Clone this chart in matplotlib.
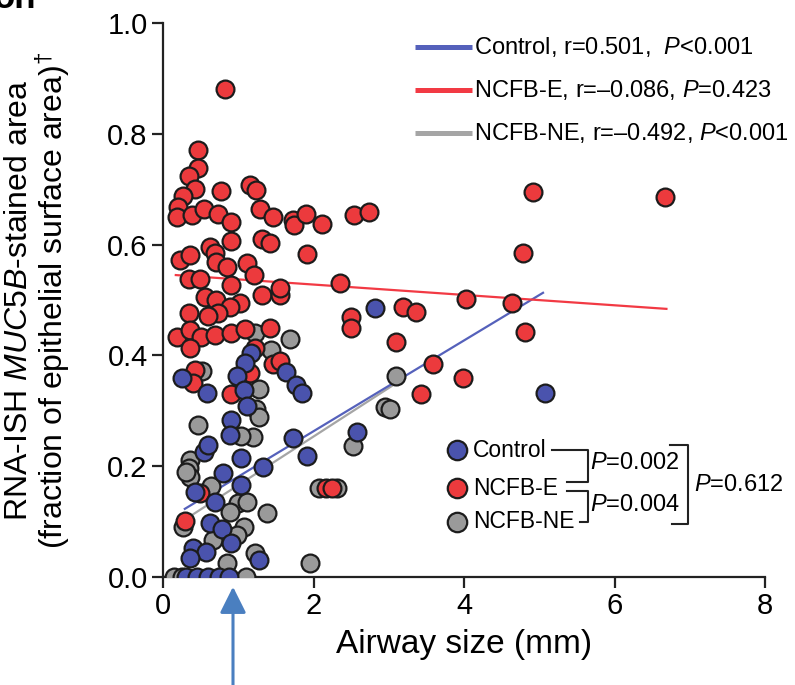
import matplotlib.pyplot as plt
import numpy as np

plt.rcParams['font.family'] = ['Liberation Sans', 'DejaVu Sans']
plt.rcParams['mathtext.fontset'] = 'custom'
plt.rcParams['mathtext.rm'] = 'Liberation Sans'
plt.rcParams['mathtext.it'] = 'Liberation Sans:italic'

# Datos: tamano de via aerea (mm) y fraccion de area MUC5B
control_x = [2.82, 5.08, 2.58, 0.25, 0.58, 1.17, 1.09, 0.99, 1.07, 1.11, 1.63, 1.77,
             1.85, 0.91, 0.89, 1.73, 1.91, 0.54, 0.60, 1.03, 1.33, 0.80, 1.03, 0.42,
             0.69, 0.62, 0.78, 0.91, 0.40, 0.57, 0.36, 1.27, 0.30, 0.45, 0.60, 0.75, 0.88]
control_y = [0.486, 0.333, 0.262, 0.359, 0.332, 0.404, 0.386, 0.362, 0.338, 0.309, 0.370, 0.347,
             0.332, 0.283, 0.256, 0.251, 0.218, 0.226, 0.238, 0.214, 0.198, 0.187, 0.166, 0.154,
             0.135, 0.097, 0.086, 0.061, 0.052, 0.046, 0.035, 0.031, 0.0, 0.0, 0.0, 0.0, 0.0]

ncfb_e_x = [0.82, 0.47, 0.47, 0.34, 0.42, 0.27, 0.20, 0.18, 0.38, 0.54, 0.77, 0.73, 0.91,
            1.16, 1.24, 1.29, 1.46, 1.73, 1.74, 1.90, 2.11, 2.54, 2.74,
            0.91, 1.31, 1.42, 1.91, 0.23, 0.36, 0.62, 0.69, 0.70, 0.85, 1.11, 1.21, 0.35,
            0.49, 0.90, 2.35, 1.31, 1.55, 1.55, 0.56, 0.71, 1.02, 0.89, 0.34, 0.73, 0.60,
            2.50, 2.50, 0.18, 0.36, 0.51, 0.69, 0.91, 1.09, 1.42, 0.36, 0.42, 0.40, 0.91,
            1.46, 1.55, 1.22, 1.16, 0.49, 0.29, 2.17, 2.25,
            4.92, 6.67, 4.79, 4.02, 4.64, 4.81, 3.19, 3.36, 3.10, 3.59, 3.99, 3.43]
ncfb_e_y = [0.880, 0.771, 0.738, 0.724, 0.700, 0.688, 0.668, 0.650, 0.653, 0.665, 0.697, 0.655, 0.640,
            0.707, 0.698, 0.665, 0.649, 0.645, 0.635, 0.656, 0.638, 0.653, 0.658,
            0.607, 0.611, 0.603, 0.583, 0.573, 0.581, 0.596, 0.585, 0.569, 0.560, 0.566, 0.545, 0.538,
            0.538, 0.527, 0.530, 0.509, 0.509, 0.521, 0.505, 0.500, 0.494, 0.488, 0.477, 0.476, 0.471,
            0.470, 0.449, 0.434, 0.446, 0.433, 0.437, 0.441, 0.447, 0.449, 0.413, 0.374, 0.350, 0.330,
            0.384, 0.389, 0.413, 0.368, 0.151, 0.101, 0.161, 0.161,
            0.695, 0.686, 0.584, 0.501, 0.495, 0.443, 0.488, 0.479, 0.424, 0.384, 0.359, 0.330]

ncfb_ne_x = [1.69, 1.44, 1.22, 0.52, 1.27, 1.24, 1.27, 0.47, 1.20, 1.04, 0.36, 0.34, 0.36,
             0.31, 0.64, 1.00, 1.11, 0.89, 1.38, 1.08, 0.98, 0.67, 0.85, 1.95, 1.22, 2.07,
             2.31, 2.53, 3.09, 2.95, 3.01, 0.27, 0.15, 0.25, 1.10]
ncfb_ne_y = [0.429, 0.410, 0.440, 0.372, 0.340, 0.303, 0.289, 0.274, 0.252, 0.255, 0.211, 0.196, 0.180,
             0.190, 0.165, 0.133, 0.136, 0.118, 0.116, 0.091, 0.076, 0.066, 0.025, 0.025, 0.043, 0.161,
             0.161, 0.237, 0.362, 0.307, 0.303, 0.091, 0.0, 0.0, 0.0]

# Rectas de regresion (extremos leidos)
fit_control_x = [0.29, 5.05]
fit_control_y = [0.123, 0.513]
fit_e_x = [0.17, 6.69]
fit_e_y = [0.545, 0.484]
fit_ne_x = [0.33, 3.10]
fit_ne_y = [0.107, 0.350]

etiquetas_recta = ['Control, r=0.501,  $P$<0.001',
                   'NCFB-E, r=\u20130.086, $P$=0.423',
                   'NCFB-NE, r=\u20130.492, $P$<0.001']
etiquetas_grupo = ['Control', 'NCFB-E', 'NCFB-NE']
p_pares = ['$P$=0.002', '$P$=0.004']
p_global = '$P$=0.612'
x_ticks = [0, 2, 4, 6, 8]
y_ticks = [0.0, 0.2, 0.4, 0.6, 0.8, 1.0]

azul = '#4a53ad'
rojo = '#ec3a3d'
gris = '#9a9a9a'
azul_linea = '#5561bb'
rojo_linea = '#f23a44'
gris_linea = '#a5a5a5'
borde = '#1c1c1c'

fig = plt.figure(figsize=(7.95, 6.85), dpi=100)
ax = fig.add_axes([163 / 795, 1 - 577 / 685, 602 / 795, 554 / 685])

ax.plot(fit_ne_x, fit_ne_y, color=gris_linea, lw=1.6, zorder=2)
ax.plot(fit_control_x, fit_control_y, color=azul_linea, lw=1.6, zorder=2)
ax.plot(fit_e_x, fit_e_y, color=rojo_linea, lw=1.6, zorder=2)

ax.scatter(ncfb_ne_x, ncfb_ne_y, s=165, c=gris, edgecolors=borde, linewidths=1.6, zorder=3)
ax.scatter(ncfb_e_x, ncfb_e_y, s=165, c=rojo, edgecolors=borde, linewidths=1.6, zorder=3)
ax.scatter(control_x, control_y, s=165, c=azul, edgecolors=borde, linewidths=1.6, zorder=3)

ax.set_xlim(0, 8)
ax.set_ylim(0, 1)
ax.set_xticks(x_ticks)
ax.set_yticks(y_ticks)
ax.set_yticklabels([f'{v:.1f}' for v in y_ticks])
for s in ['top', 'right']:
    ax.spines[s].set_visible(False)
for s in ['left', 'bottom']:
    ax.spines[s].set_linewidth(1.6)
    ax.spines[s].set_color('#222222')
ax.tick_params(direction='out', length=8, width=1.6, labelsize=21, pad=3, color='#222222')

ax.set_xlabel('Airway size (mm)', fontsize=24, labelpad=6)
ax.set_ylabel('RNA-ISH $\\it{MUC5B}$-stained area\n(fraction of epithelial surface area)$^{\u2020}$',
              fontsize=23, linespacing=0.95)
ax.yaxis.set_label_coords((72 - 163) / 602, 0.5)

# Capa en pixeles para leyendas, corchetes y flecha
ov = fig.add_axes([0, 0, 1, 1], zorder=5)
ov.set_xlim(0, 795)
ov.set_ylim(685, 0)
ov.axis('off')
ov.patch.set_alpha(0)

for y, c, lab in zip([47, 90, 133], [azul_linea, rojo_linea, gris_linea], etiquetas_recta):
    ov.plot([415, 472], [y, y], color=c, lw=3.6, solid_capstyle='butt')
    ov.text(474, y, lab, fontsize=17, va='center')

for y, c, lab in zip([450, 488, 522], [azul, rojo, gris], etiquetas_grupo):
    ov.plot([457], [y], 'o', ms=14, mfc=c, mec=borde, mew=1.6)
    ov.text(473, y, lab, fontsize=16.5, va='center')

ov.plot([552, 588, 588, 567], [450, 450, 482, 482], color='#222222', lw=1.5)
ov.plot([567, 588, 588, 580], [491, 491, 522, 522], color='#222222', lw=1.5)
ov.plot([670, 688, 688, 672], [445, 445, 524, 524], color='#222222', lw=1.5)
ov.text(590, 463, p_pares[0], fontsize=17, va='center')
ov.text(590, 505, p_pares[1], fontsize=17, va='center')
ov.text(694, 485, p_global, fontsize=17, va='center')

ov.annotate('', xy=(233, 584), xytext=(233, 692),
            arrowprops=dict(arrowstyle='-|>,head_length=0.8,head_width=0.4',
                            color='#4a7fc0', lw=2.2, mutation_scale=20))

fig.text(-6 / 795, 1 - 8 / 685, 'on', fontsize=25, fontweight='bold', va='baseline')

plt.savefig('out.png', dpi=100)
